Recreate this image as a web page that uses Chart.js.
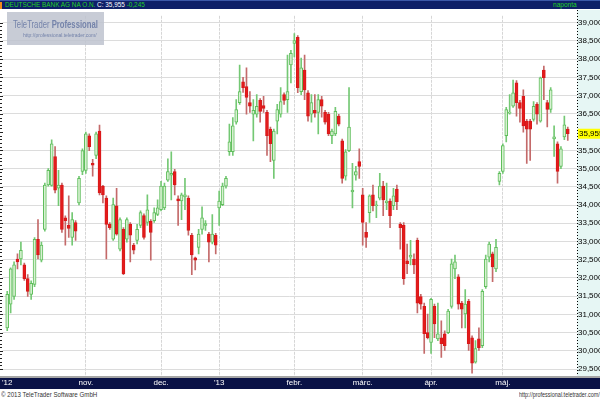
<!DOCTYPE html>
<html>
<head>
<meta charset="utf-8">
<script src="https://cdn.jsdelivr.net/npm/chart.js@4.4.0/dist/chart.umd.min.js"></script>
<style>
  html, body { margin: 0; padding: 0; background: #fff; }
  #wrap { position: relative; width: 600px; height: 400px; overflow: hidden;
          font-family: 'Liberation Sans', Arial, sans-serif; }
  .sq { transform-origin: 0 0; display: inline-block; }
  #head { position: absolute; left: 0; top: 0; width: 600px; height: 9px;
          background: #0e1f68; border-top: 1px solid #3c58a8; box-sizing: border-box; }
  #head .mark { position: absolute; left: 0; top: 1px; width: 2px; height: 7px; background: #f08a1c; }
  #head .title { position: absolute; left: 5px; top: -1px; font-size: 8px; line-height: 10px; color: #22d422; white-space: nowrap; transform: scaleX(0.8); }
  #head .title b { font-weight: normal; color: #fff; }
  #head .freq { position: absolute; left: 553px; top: -1px; font-size: 8px; line-height: 10px; color: #22d422; transform: scaleX(0.82); }
  #chartBox { position: absolute; left: 0; top: 10px; }
  #logo { position: absolute; left: 7px; top: 12px; width: 97px; height: 33px; background: rgba(190, 195, 207, 0.85); }
  #logo .name { position: absolute; left: 6px; top: 6px; font-size: 11px; line-height: 12px; color: #7483aa; white-space: nowrap; transform: scaleX(0.7); }
  #logo .name b { font-weight: bold; }
  #logo .url { position: absolute; left: 16px; top: 20px; font-size: 6px; line-height: 7px; color: #7483aa; white-space: nowrap; transform: scaleX(0.83); }
  #foot1 { position: absolute; left: 1px; top: 389px; font-size: 8px; line-height: 11px; color: #333; white-space: nowrap; transform: scaleX(0.77); }
  #foot2 { position: absolute; left: 519px; top: 390px; font-size: 7px; line-height: 10px; color: #333; white-space: nowrap; transform: scaleX(0.78); }
  #head .title, #head .freq, #logo .name, #logo .url, #foot1, #foot2 { transform-origin: 0 50%; }
</style>
</head>
<body>
<div id="wrap">
  <div id="head">
    <div class="mark"></div>
    <div class="title">DEUTSCHE BANK AG NA O.N. <b>C: 35,955</b> -0,245</div>
    <div class="freq">naponta</div>
  </div>
  <div id="chartBox"><canvas id="grafico" width="600" height="379"></canvas></div>
  <div id="logo">
    <div class="name">TeleTrader <b>Professional</b></div>
    <div class="url">http://professional.teletrader.com/</div>
  </div>
  <div id="foot1">© 2013 TeleTrader Software GmbH</div>
  <div id="foot2">http://professional.teletrader.com/</div>
</div>
<script>
// Napi árfolyamok (EUR), 2012.10.01 - 2013.05.
const monthLabels = ["'12", 'nov.', 'dec.', "'13", 'febr.', 'márc.', 'ápr.', 'máj.'];
const tradingDays = [23, 22, 17, 22, 20, 20, 21, 20];
const yTicks = [29.5, 30, 30.5, 31, 31.5, 32, 32.5, 33, 33.5, 34, 34.5, 35, 35.5, 36, 36.5, 37, 37.5, 38, 38.5, 39];
const lastClose = 35.955;

const opens = [
  30.63, 31.28, 31.49, 32.52, 32.52, 32.36, 31.98, 31.55, 31.82, 33.06,
  32.49, 33.33, 34.55, 34.54, 35.33, 34.46, 34.55, 33.65, 33.44, 33.11,
  33.52, 34.06, 34.92, 34.95, 35.90, 35.14, 35.36, 36.03, 34.52, 34.19,
  33.47, 33.06, 33.98, 32.79, 33.33, 33.06, 33.47, 32.90, 33.03, 33.44,
  33.71, 33.52, 33.55, 33.57, 33.74, 33.87, 33.92, 34.68, 34.82, 34.92,
  34.17, 34.11, 34.22, 34.19, 33.17, 32.55, 32.84, 33.33, 33.44, 33.20,
  32.98, 33.17, 33.92, 34.01, 34.52, 35.46, 35.46, 36.27, 36.81, 37.38,
  37.25, 36.81, 36.49, 36.49, 36.87, 36.73, 36.54, 36.08, 35.22, 36.30,
  36.49, 37.03, 36.89, 37.84, 38.43, 38.60, 37.11, 37.70, 37.08, 36.49,
  36.60, 36.54, 36.89, 36.54, 36.49, 35.90, 35.95, 36.44, 35.76, 34.79,
  35.49, 34.36, 34.82, 35.19, 34.28, 33.25, 33.79, 34.28, 33.98, 34.19,
  34.52, 34.06, 34.11, 33.98, 34.44, 33.47, 33.44, 32.47, 32.57, 32.52,
  33.03, 31.49, 31.22, 30.50, 30.23, 31.22, 30.33, 30.36, 30.47, 30.50,
  31.22, 32.25, 32.03, 31.31, 31.01, 31.36, 30.36, 29.69, 30.33, 30.14,
  31.76, 32.57, 32.66, 32.25, 34.65, 34.92, 35.90, 36.52, 36.71, 37.35,
  36.81, 36.98, 36.30, 36.30, 36.35, 36.76, 36.30, 37.70, 36.81, 36.62,
  35.81, 35.68, 35.06, 35.87, 36.08
];
const highs = [
  31.63, 32.28, 32.44, 32.66, 32.98, 32.41, 32.09, 31.92, 33.11, 33.60,
  32.98, 34.60, 35.00, 35.79, 35.60, 34.95, 34.60, 33.70, 34.25, 33.79,
  33.57, 34.79, 35.54, 36.00, 35.95, 35.25, 36.00, 36.19, 34.54, 34.25,
  33.52, 34.19, 34.46, 33.65, 33.38, 33.65, 33.52, 32.95, 33.47, 33.84,
  33.76, 34.28, 33.60, 33.92, 34.14, 34.65, 34.60, 35.27, 35.46, 34.98,
  34.25, 34.33, 34.73, 34.25, 33.22, 32.57, 33.33, 33.95, 33.57, 33.25,
  33.74, 33.22, 34.38, 34.60, 34.79, 36.22, 36.40, 36.89, 37.84, 37.50,
  37.76, 37.11, 36.89, 37.03, 36.92, 36.98, 36.60, 36.14, 36.08, 36.76,
  37.22, 37.08, 38.11, 38.24, 38.70, 38.65, 38.03, 38.11, 37.14, 37.03,
  37.03, 37.03, 36.98, 36.60, 36.54, 36.08, 36.68, 36.49, 35.81, 35.52,
  37.22, 35.14, 35.06, 35.54, 34.46, 33.52, 34.28, 34.55, 34.11, 34.87,
  34.65, 34.60, 34.17, 34.46, 34.55, 33.52, 33.52, 32.93, 33.03, 32.66,
  33.09, 31.55, 31.31, 31.01, 31.44, 31.28, 31.31, 30.82, 30.55, 31.14,
  32.52, 32.63, 32.09, 31.36, 31.68, 31.41, 30.41, 30.28, 30.63, 31.68,
  32.63, 32.98, 32.71, 33.06, 34.92, 35.68, 36.68, 37.03, 37.43, 37.41,
  36.87, 37.16, 36.35, 36.35, 36.84, 36.81, 37.51, 37.81, 36.87, 37.22,
  36.17, 35.73, 35.60, 36.44, 36.14
];
const lows = [
  30.55, 31.04, 31.41, 32.25, 32.36, 31.93, 31.49, 31.41, 31.76, 32.52,
  32.44, 33.28, 34.52, 34.52, 34.33, 33.98, 33.25, 32.90, 33.11, 32.90,
  33.03, 34.00, 34.83, 34.87, 35.49, 34.79, 35.27, 34.28, 34.06, 32.52,
  33.33, 33.03, 33.17, 32.74, 32.09, 32.98, 32.44, 32.66, 32.93, 33.38,
  33.06, 33.44, 32.49, 33.52, 33.71, 33.84, 33.87, 34.65, 34.14, 34.28,
  33.44, 33.60, 33.87, 33.17, 32.09, 32.22, 32.66, 33.20, 33.30, 32.44,
  32.93, 32.66, 33.44, 33.98, 34.46, 35.36, 35.36, 36.22, 36.76, 37.09,
  36.49, 36.54, 35.76, 36.41, 36.27, 36.54, 35.36, 35.19, 34.73, 35.95,
  36.41, 36.76, 36.54, 37.35, 38.06, 37.08, 37.03, 36.89, 36.30, 36.27,
  36.41, 35.95, 36.41, 36.22, 35.90, 35.68, 35.90, 36.17, 34.60, 34.68,
  35.46, 33.92, 34.68, 34.73, 32.90, 32.84, 33.52, 33.84, 33.65, 34.14,
  33.71, 33.87, 33.38, 33.87, 33.87, 32.79, 31.82, 32.12, 32.36, 32.12,
  31.04, 31.14, 29.93, 30.33, 29.93, 30.36, 30.28, 29.82, 30.01, 30.47,
  31.17, 31.98, 31.14, 30.63, 30.63, 30.01, 29.39, 29.66, 30.01, 30.09,
  31.71, 32.44, 31.90, 32.17, 34.55, 34.87, 35.73, 36.49, 36.68, 36.44,
  36.27, 36.00, 35.14, 35.22, 36.30, 36.22, 36.27, 36.89, 36.14, 36.54,
  35.33, 34.60, 35.00, 35.79, 35.77
];
const closes = [
  31.55, 32.25, 32.36, 32.44, 32.76, 31.98, 31.63, 31.85, 33.06, 32.63,
  32.90, 34.55, 34.95, 35.68, 34.41, 34.55, 33.33, 33.57, 33.36, 33.60,
  33.28, 34.73, 35.49, 35.95, 35.60, 35.09, 35.95, 34.33, 34.28, 33.47,
  33.38, 34.01, 33.20, 33.60, 32.12, 33.60, 33.17, 32.76, 33.33, 33.79,
  33.11, 33.87, 33.25, 33.79, 33.92, 34.52, 34.52, 34.92, 34.87, 34.55,
  34.11, 34.28, 34.28, 33.30, 32.63, 32.49, 33.20, 33.65, 33.49, 32.98,
  33.20, 32.90, 34.11, 34.52, 34.73, 35.73, 36.17, 36.62, 37.11, 37.22,
  36.95, 36.71, 36.60, 36.71, 36.57, 36.65, 35.90, 35.68, 36.03, 36.62,
  36.84, 36.87, 37.11, 38.16, 38.51, 37.22, 37.76, 37.16, 36.44, 36.81,
  36.52, 36.89, 36.71, 36.27, 35.95, 36.03, 36.57, 36.22, 34.73, 35.46,
  36.14, 34.41, 34.92, 35.06, 33.52, 33.11, 34.25, 33.98, 34.00, 34.52,
  34.14, 34.11, 33.71, 34.25, 34.09, 33.38, 31.98, 32.39, 32.63, 32.36,
  31.31, 31.28, 30.47, 30.36, 31.41, 30.74, 30.47, 30.20, 30.14, 31.09,
  32.39, 32.44, 31.28, 31.14, 31.28, 30.20, 29.66, 30.06, 30.09, 31.63,
  32.52, 32.93, 32.30, 32.84, 34.87, 35.63, 36.62, 36.54, 37.08, 36.81,
  36.65, 36.17, 36.08, 36.08, 36.71, 36.49, 37.49, 37.49, 36.62, 37.16,
  35.87, 34.92, 35.54, 36.20, 35.955
];

document.addEventListener('DOMContentLoaded', function() {
    // első kereskedési nap indexe havonta
    const monthStarts = [];
    let acc = 0;
    tradingDays.forEach(n => { monthStarts.push(acc); acc += n; });

    const isUp = i => closes[i] >= opens[i];
    const fmt = v => v.toFixed(3).replace('.', ',');

    const framePlugin = {
        id: 'frame',
        beforeDraw(chart) {
            const { ctx, chartArea: ca, width, height } = chart;
            ctx.save();
            ctx.fillStyle = '#e6f6f4';
            ctx.fillRect(ca.right, 0, width - ca.right, ca.bottom);
            ctx.fillStyle = '#a6a6a6';
            ctx.fillRect(0, ca.bottom, width, 2);
            ctx.fillStyle = '#0a1246';
            ctx.fillRect(0, ca.bottom + 2, width, height - ca.bottom - 2);
            ctx.restore();
        },
        afterDraw(chart) {
            const { ctx, chartArea: ca, scales } = chart;
            const y = scales.y;
            ctx.save();
            // szaggatott tengelyvonal jobbra
            ctx.strokeStyle = '#000';
            ctx.lineWidth = 1;
            ctx.setLineDash([1, 2]);
            ctx.beginPath();
            ctx.moveTo(ca.right + 0.5, 0);
            ctx.lineTo(ca.right + 0.5, ca.bottom);
            ctx.stroke();
            ctx.setLineDash([]);
            // bal oldali jelek
            ctx.fillStyle = '#222';
            for (let v = 29.5; v <= 39.01; v += 0.1) {
                const py = Math.round(y.getPixelForValue(v));
                const major = Math.abs(v * 2 - Math.round(v * 2)) < 0.01;
                ctx.fillRect(0, py, major ? 3 : 2, 1);
            }
            // utolsó ár jelölése
            const py = y.getPixelForValue(lastClose);
            ctx.fillStyle = '#ffff00';
            ctx.fillRect(ca.right + 1, py - 5, 22, 10);
            ctx.fillStyle = '#000';
            ctx.font = "8px 'Liberation Sans', Arial";
            ctx.textBaseline = 'middle';
            ctx.textAlign = 'left';
            ctx.fillText(fmt(lastClose), ca.right + 2, py);
            ctx.restore();
        }
    };

    const ctx = document.getElementById('grafico').getContext('2d');
    const chart = new Chart(ctx, {
        type: 'bar',
        data: {
            datasets: [{
                label: 'kanóc',
                data: lows.map((l, i) => ({ x: i, y: [l, highs[i]] })),
                backgroundColor: lows.map((l, i) => isUp(i) ? '#74c874' : '#c46a6a'),
                barThickness: 1,
                grouped: false,
                order: 2
            }, {
                label: 'test',
                data: opens.map((o, i) => ({ x: i, y: [o, closes[i]] })),
                backgroundColor: opens.map((o, i) => isUp(i) ? '#d8f1d2' : '#e41b1b'),
                borderColor: opens.map((o, i) => isUp(i) ? '#5fbe5c' : '#d8191a'),
                borderWidth: 1,
                borderSkipped: false,
                barThickness: 3,
                minBarLength: 1,
                grouped: false,
                order: 1
            }]
        },
        options: {
            responsive: false,
            animation: false,
            devicePixelRatio: 1,
            layout: { padding: { left: 2, right: 0, top: 0, bottom: 0 } },
            plugins: {
                legend: { display: false },
                tooltip: { enabled: false }
            },
            scales: {
                x: {
                    type: 'linear',
                    offset: false,
                    min: -1.37,
                    max: 166.7,
                    afterBuildTicks: s => { s.ticks = monthStarts.map(v => ({ value: v })); },
                    afterFit: s => { s.height = 13; },
                    grid: {
                        offset: false,
                        color: c => c.index === 0 ? 'rgba(0,0,0,0)' : '#d6d6d6',
                        drawTicks: false
                    },
                    border: { display: false, dash: [3, 1] },
                    ticks: {
                        autoSkip: false,
                        maxRotation: 0,
                        padding: 2,
                        color: '#ffffff',
                        font: { family: "'Liberation Sans', Arial", size: 8 },
                        callback: (v, i) => monthLabels[i]
                    }
                },
                y: {
                    position: 'right',
                    min: 29.31,
                    max: 39.19,
                    afterBuildTicks: s => {
                        s.ticks = yTicks.filter(v => Math.abs(v - lastClose) > 0.2).map(v => ({ value: v }));
                    },
                    afterFit: s => { s.width = 23; },
                    grid: { color: '#dcdcdc', drawTicks: false },
                    border: { display: false },
                    ticks: {
                        padding: 1,
                        color: '#000',
                        font: { family: "'Liberation Sans', Arial", size: 8 },
                        callback: v => fmt(v)
                    }
                }
            }
        },
        plugins: [framePlugin]
    });
});
</script>
</body>
</html>
